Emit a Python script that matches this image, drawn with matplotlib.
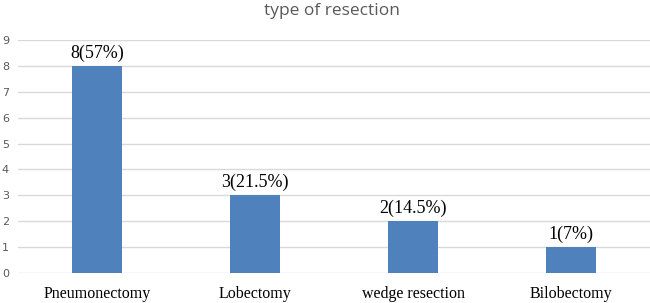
import numpy as np
import matplotlib
matplotlib.use("Agg")
import matplotlib.pyplot as plt

categories = ["Pneumonectomy", "Lobectomy", "wedge resection", "Bilobectomy"]
counts = [8, 3, 2, 1]
bar_labels = ["8(57%)", "3(21.5%)", "2(14.5%)", "1(7%)"]

fig = plt.figure(figsize=(6.5, 3.03), dpi=100)
ax = fig.add_axes([18 / 650, 1 - 273 / 303, 1 - 18 / 650, (273 - 40) / 303])

x = np.arange(len(categories))
ax.bar(x, counts, width=0.315, color="#4f81bd", zorder=3)

for xi, c, lab in zip(x, counts, bar_labels):
    ax.text(xi, c + 0.15, lab, ha="center", va="bottom",
            family="Liberation Serif", fontsize=13, color="black")

ax.set_xlim(-0.5, 3.5)
ax.set_ylim(0, 9)
ax.set_yticks(range(0, 10))
ax.yaxis.grid(True, color="#d9d9d9", linewidth=1, zorder=0)
ax.set_xticks(x)
ax.set_xticklabels(categories, family="Liberation Serif", fontsize=11.5)
ax.tick_params(axis="x", length=0, pad=9)
ax.tick_params(axis="y", length=0, pad=6.5, labelsize=8, labelcolor="#595959")
for s in ax.spines.values():
    s.set_visible(False)

fig.text(332 / 650, 1 - 11 / 303, "type of resection", ha="center", va="center",
         fontsize=12.5, color="#595959", family="Open Sans")

fig.savefig("out.png", dpi=100)
